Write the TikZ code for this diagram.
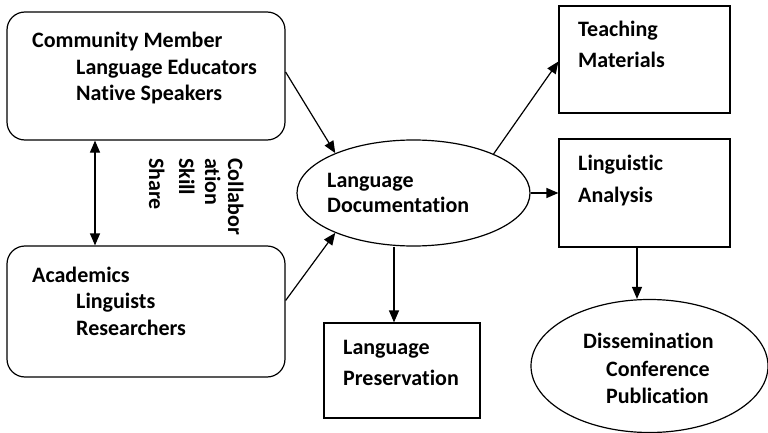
\documentclass[tikz,border=0pt]{standalone}
\usepackage{fontspec}
\setmainfont{Carlito}[Ligatures=NoCommon]
\usetikzlibrary{arrows.meta,shapes.geometric}
\begin{document}
\begin{tikzpicture}[x=1pt,y=-1pt,
  lw/.style={line width=1.2pt},
  txt/.style={font=\fontsize{22}{26}\selectfont\bfseries, inner sep=0pt, anchor=base west},
  rtxt/.style={txt, rotate=-90},
  rbox/.style={lw, draw, rounded corners=18pt, minimum width=278pt, inner sep=0pt},
  sbox/.style={lw, draw, inner sep=0pt},
  ell/.style={lw, draw, ellipse, inner sep=0pt},
  arr/.style={lw, -{Triangle[length=12pt,width=10pt]}},
  darr/.style={lw, {Triangle[length=12pt,width=10pt]}-{Triangle[length=12pt,width=10pt]}}
]
\useasboundingbox (0,0) rectangle (768,433);
% shapes
\node[rbox, minimum height=128pt] (comm) at (146,76) {};
\node[rbox, minimum height=131pt] (acad) at (146,311.5) {};
\node[ell, minimum width=233pt, minimum height=106pt] (doc) at (413.5,193) {};
\node[sbox, minimum width=171pt, minimum height=107pt] (teach) at (644.5,59.5) {};
\node[sbox, minimum width=171pt, minimum height=108pt] (ling) at (644.5,193) {};
\node[sbox, minimum width=156pt, minimum height=95pt] (pres) at (402,370.5) {};
\node[ell, minimum width=237pt, minimum height=133pt] (diss) at (649.5,366) {};
% texts
\node[txt] (c1) at (32,48) {Community Member};
\node[txt] (c2) at (76,75) {Language Educators};
\node[txt] (c3) at (76,101) {Native Speakers};
\node[txt] (a1) at (32,282) {Academics};
\node[txt] (a2) at (76,308) {Linguists};
\node[txt] (a3) at (76,335) {Researchers};
\node[txt] (d1) at (327,187) {Language};
\node[txt] (d2) at (327,212) {Documentation};
\node[txt] (t1) at (578,37) {Teaching};
\node[txt] (t2) at (578,68) {Materials};
\node[txt] (l1) at (578,170) {Linguistic};
\node[txt] (l2) at (578,202) {Analysis};
\node[txt] (p1) at (343,354) {Language};
\node[txt] (p2) at (343,385) {Preservation};
\node[txt] (s1) at (583,348) {Dissemination};
\node[txt] (s2) at (606,376) {Conference};
\node[txt] (s3) at (606,403) {Publication};
\node[rtxt] (r1) at (228,158) {Collabor};
\node[rtxt] (r2) at (205,158) {ation};
\node[rtxt] (r3) at (179,158) {Skill};
\node[rtxt] (r4) at (149,158) {Share};
% connectors
\draw[darr] (comm.south -| 95,0) -- (acad.north -| 95,0);
\draw[arr] ([yshift=4pt]comm.east) -- (doc.153);
\draw[arr] ([yshift=11pt]acad.east) -- (doc.207);
\draw[arr] (doc.26) -- ([yshift=-2pt]teach.west);
\draw[arr] (doc.east) -- (ling.west);
\draw[arr] (doc.south -| 394,0) -- (pres.north -| 394,0);
\draw[arr] (ling.south -| 637,0) -- (diss.north -| 637,0);
\end{tikzpicture}
\end{document}
